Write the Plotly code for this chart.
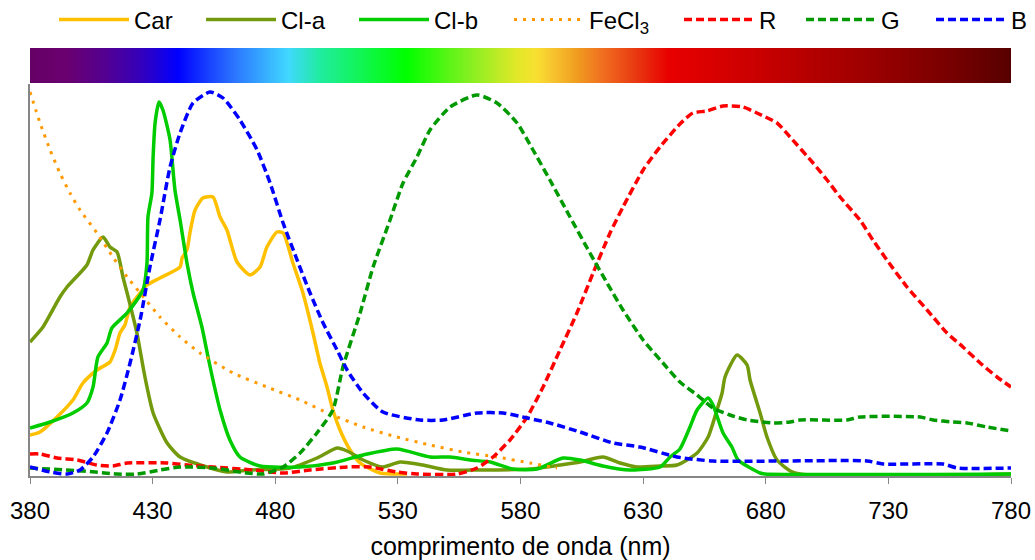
import numpy as np
import plotly.graph_objects as go

# ---------------- data ----------------
car_wl = [380, 384.1, 391, 397.5, 401.6, 407.3, 412.6, 414.7, 416.7, 418.7, 420.8, 423.6, 427.7, 433,
          441.2, 442, 444, 445.2, 447.3, 450.5, 454.6, 457.5, 460.3, 464.4, 469.7, 473.8, 476.6, 480.7,
          483.2, 487.2, 491.3, 495.4, 498.2, 501.1, 503.5, 506.4, 510.5, 514.6, 522.7, 533.7]
car_val = [0.39, 0.42, 0.57, 0.74, 0.91, 1.04, 1.12, 1.24, 1.41, 1.49, 1.67, 1.77, 1.89, 1.96,
           2.07, 2.16, 2.24, 2.41, 2.64, 2.76, 2.77, 2.57, 2.44, 2.12, 1.99, 2.07, 2.27, 2.42,
           2.41, 2.11, 1.81, 1.41, 1.11, 0.87, 0.64, 0.44, 0.24, 0.11, 0.01, 0.0]

cla_wl = [380, 385.3, 392.2, 395.1, 403.2, 405.7, 409.8, 412.6, 415.5, 417.9, 419.6, 423.6, 426.1, 427.7,
          430.2, 435.9, 441.2, 452.2, 460.3, 469.7, 486, 497, 505.2, 509.3, 515.8, 523.9, 530.9, 540.2,
          550, 563.5, 583.9, 596.1, 604.3, 613.6, 620.6, 627.5, 636.9, 643.8, 652, 656.5, 660.1, 662.2,
          663.4, 668.3, 672.4, 673.6, 677.7, 680.5, 684.6, 691.9, 780]
cla_val = [1.32, 1.47, 1.77, 1.87, 2.09, 2.24, 2.37, 2.27, 2.22, 1.97, 1.81, 1.41, 1.07, 0.87,
           0.61, 0.31, 0.17, 0.07, 0.02, 0.04, 0.06, 0.16, 0.26, 0.23, 0.14, 0.07, 0.12, 0.09,
           0.04, 0.04, 0.05, 0.09, 0.12, 0.17, 0.11, 0.07, 0.08, 0.09, 0.21, 0.37, 0.64, 0.81,
           0.97, 1.19, 1.09, 0.94, 0.61, 0.37, 0.14, 0.01, 0.0]

clb_wl = [380, 388.2, 397.5, 403.2, 405.7, 407.7, 411.4, 413.4, 419.6, 426.1, 427.7, 428.1, 429.7, 430.2,
          431, 432.6, 434.2, 437.1, 439.1, 441.2, 444, 446.5, 450.1, 452.6, 454.6, 457.5, 461.5, 465.6,
          473.8, 490.1, 503.5, 515.8, 529.6, 543.1, 551.3, 559.4, 567.6, 576.9, 586.7, 597.3, 604.3,
          613.6, 624.6, 636.9, 641, 645, 649.1, 652, 656.5, 658.5, 662.6, 666.2, 668.7, 677.7, 679.7, 780]
clb_val = [0.46, 0.52, 0.61, 0.71, 0.87, 1.17, 1.31, 1.46, 1.61, 1.84, 2.11, 2.57, 2.81, 3.17,
           3.51, 3.72, 3.64, 3.34, 2.84, 2.54, 2.11, 1.81, 1.47, 1.17, 0.94, 0.64, 0.34, 0.17,
           0.08, 0.07, 0.11, 0.19, 0.25, 0.17, 0.17, 0.14, 0.12, 0.05, 0.05, 0.16, 0.14,
           0.08, 0.04, 0.07, 0.17, 0.25, 0.47, 0.64, 0.76, 0.69, 0.41, 0.27, 0.14, 0.01, 0.0, 0.0]

fecl3_wl = [380, 384.1, 388.2, 392.2, 396.3, 400.4, 407.3, 413.8, 419.6, 424.9, 433, 441.2, 449.3, 462.8,
            476.6, 490.1, 502.3, 515.8, 529.6, 543.1, 556.6, 570.4, 583.9, 594.9]
fecl3_val = [3.82, 3.51, 3.24, 3.01, 2.81, 2.64, 2.41, 2.17, 1.97, 1.81, 1.57, 1.37, 1.21, 1.01,
             0.87, 0.74, 0.60, 0.47, 0.37, 0.29, 0.22, 0.17, 0.11, 0.06]

r_wl = [380, 384.1, 391, 399.2, 407.3, 413.8, 419.6, 435.9, 444, 454.6, 470.9, 483.2, 494.2, 509.3,
        518.6, 529.6, 537.8, 554.1, 562.3, 568.8, 575.7, 582.7, 589.2, 596.1, 603, 609.6, 616.5,
        621.8, 630, 636.9, 645, 650.3, 656, 662.6, 670.7, 676.4, 684.6, 689.9, 699.3, 705, 710.3,
        718.4, 723.7, 729.4, 737.6, 745.8, 753.9, 760.4, 767.4, 774.3, 780]
r_val = [0.20, 0.20, 0.16, 0.14, 0.09, 0.08, 0.11, 0.11, 0.09, 0.07, 0.04, 0.01, 0.04, 0.07,
         0.07, 0.02, 0.0, 0.0, 0.06, 0.17, 0.34, 0.57, 0.87, 1.24, 1.61, 2.01, 2.41,
         2.67, 3.04, 3.27, 3.50, 3.61, 3.63, 3.68, 3.67, 3.61, 3.51, 3.37, 3.11, 2.94, 2.77,
         2.54, 2.34, 2.14, 1.87, 1.64, 1.41, 1.27, 1.11, 0.97, 0.87]

g_wl = [380, 401.6, 415.5, 423.6, 433, 441.2, 454.6, 468.5, 475, 483.2, 490.1, 497, 503.5, 507.6,
        514.6, 519.9, 526.8, 532.1, 537.8, 543.1, 551.3, 562.3, 570.4, 578.6, 585.1, 592, 600.2,
        608.3, 615.3, 621.8, 630, 638.1, 645, 652, 658.5, 665.4, 672.4, 683, 689.9, 694, 713.1,
        718.4, 742.9, 748.2, 756.3, 762.1, 770.2, 780]
g_val = [0.06, 0.03, 0.0, 0.0, 0.04, 0.07, 0.06, 0.01, 0.0, 0.07, 0.21, 0.41, 0.64, 1.07,
         1.61, 2.07, 2.54, 2.91, 3.17, 3.44, 3.67, 3.79, 3.71, 3.51, 3.24, 2.94, 2.57,
         2.21, 1.91, 1.64, 1.34, 1.11, 0.92, 0.79, 0.66, 0.59, 0.54, 0.51, 0.52, 0.54, 0.54,
         0.57, 0.57, 0.54, 0.52, 0.51, 0.47, 0.43]

b_wl = [380, 388.2, 395.1, 400.4, 405.7, 411.4, 416.7, 420.8, 424.9, 428.9, 433, 437.1, 441.2, 446.5,
        453.4, 458.7, 465.6, 472.6, 477.9, 483.2, 488.9, 494.2, 499.5, 505.2, 509.3, 515.8, 523.9,
        539, 548.4, 562.3, 572.9, 582.7, 592, 604.3, 617.7, 628.7, 643.8, 658.5, 721.3, 727.8,
        752.3, 758, 780]
b_val = [0.07, 0.02, 0.0, 0.04, 0.17, 0.41, 0.74, 1.11, 1.54, 2.07, 2.54, 3.07, 3.41, 3.71,
         3.82, 3.76, 3.54, 3.24, 2.91, 2.51, 2.14, 1.81, 1.51, 1.24, 1.04, 0.81, 0.62,
         0.54, 0.54, 0.61, 0.61, 0.56, 0.51, 0.42, 0.31, 0.27, 0.17, 0.13, 0.13, 0.10,
         0.10, 0.06, 0.06]

# visible-spectrum strip (wavelength -> colour stops)
spectrum_wl = [380, 395, 410, 425, 440, 462, 485, 498, 533, 558, 578, 586, 592, 602, 613, 628,
               640, 678, 718, 755, 778, 780]
spectrum_col = ["#660066", "#6a0070", "#540090", "#3500bb", "#0000ff", "#2a70ff", "#40d8ff",
                "#20eca0", "#00ff00", "#80f020", "#e0e828", "#f8e030", "#f8c830", "#f0a020",
                "#f07020", "#e83410", "#e80000", "#c80000", "#a00000", "#780000", "#5a0000",
                "#500000"]

x_ticks = [380, 430, 480, 530, 580, 630, 680, 730, 780]

# ---------------- figure ----------------
FONT = "Liberation Sans, Arial, sans-serif"
fig = go.Figure()

# colour strip on its own small y axis at the top
strip_x = np.arange(380, 781)
cs = [[(w - 380) / 400.0, c] for w, c in zip(spectrum_wl, spectrum_col)]
fig.add_trace(go.Heatmap(x=strip_x, y=[0], z=[strip_x], colorscale=cs, zmin=380, zmax=780,
                         showscale=False, hoverinfo="skip", showlegend=False,
                         xaxis="x", yaxis="y2", zsmooth="best"))

series = [
    ("Car", car_wl, car_val, "#FFC000", "solid", 3.5),
    ("Cl-a", cla_wl, cla_val, "#729A0C", "solid", 3.5),
    ("Cl-b", clb_wl, clb_val, "#00CC00", "solid", 3.5),
    ("FeCl<sub>3</sub>", fecl3_wl, fecl3_val, "#FF9900", "3px,6px", 3),
    ("R", r_wl, r_val, "#FF0000", "8px,4px", 3.5),
    ("G", g_wl, g_val, "#009A00", "8px,4px", 3.5),
    ("B", b_wl, b_val, "#0000FF", "8px,4px", 3.5),
]
legend_widths = [62, 68, 70, 85, 37, 45, 20]
for (name, xs, ys, col, dash, w), lw in zip(series, legend_widths):
    fig.add_trace(go.Scatter(x=xs, y=ys, mode="lines", name=name,
                             line=dict(color=col, width=w, dash=dash, shape="spline", smoothing=0.6),
                             legendwidth=lw))

fig.update_layout(
    width=1035, height=560,
    margin=dict(l=30, r=24, t=48, b=84, autoexpand=False),
    paper_bgcolor="white", plot_bgcolor="white",
    font=dict(family=FONT, size=24, color="black"),
    showlegend=True,
    legend=dict(orientation="h", x=0.0245, xanchor="left", xref="paper", yref="paper",
                y=1.0654, yanchor="middle", font=dict(size=24), bgcolor="rgba(0,0,0,0)",
                itemwidth=70, traceorder="normal"),
    xaxis=dict(range=[380, 780], tickvals=x_ticks, ticktext=[str(t) for t in x_ticks],
               showline=True, linecolor="#868686", linewidth=1.5, ticks="outside",
               ticklen=6, tickcolor="#868686", showgrid=False, zeroline=False, automargin=False,
               tickfont=dict(size=24, family=FONT), ticklabelstandoff=6,
               title=dict(text="comprimento de onda (nm)", font=dict(size=25, family=FONT),
                          standoff=16)),
    yaxis=dict(domain=[0, 0.9159], range=[-0.02, 3.9], showline=True, linecolor="#868686",
               linewidth=1.5, showticklabels=False, ticks="", showgrid=False, zeroline=False,
               automargin=False),
    yaxis2=dict(domain=[0.9182, 1], range=[-0.5, 0.5], showticklabels=False, showgrid=False,
                zeroline=False, showline=False, ticks="", automargin=False),
)

# the page's default body margin would shift the 1035x560 figure; remove it
fig.write_html("out.html", config={"displayModeBar": False},
               post_script="document.body.style.margin='0px';")
